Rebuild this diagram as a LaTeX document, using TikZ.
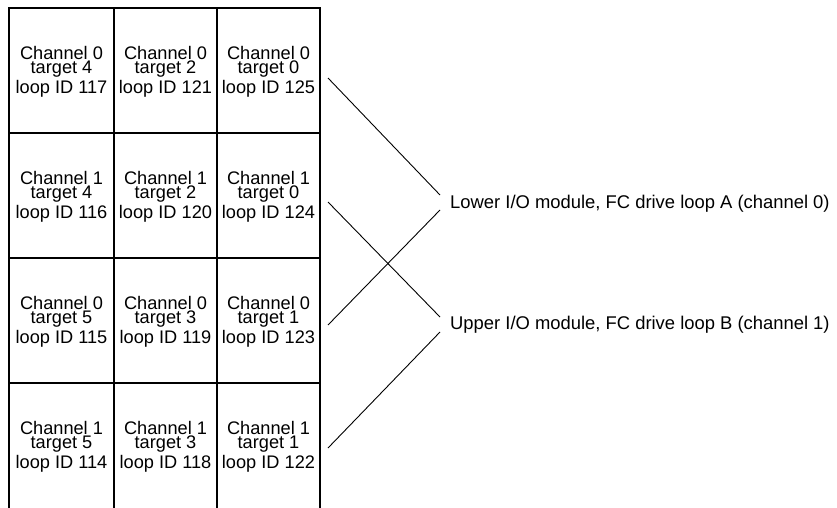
\documentclass[tikz,border=0pt]{standalone}
\usepackage{fontspec}
\setmainfont{Liberation Sans}
\begin{document}
\begin{tikzpicture}[x=1pt,y=-1pt,
  grid/.style={line width=1.6pt, line cap=rect},
  conn/.style={line width=0.9pt},
  cell/.style={align=center, inner sep=0pt, font=\fontsize{18.2}{14.2}\selectfont},
  lbl/.style={anchor=base west, inner sep=0pt, font=\fontsize{18.4}{22}\selectfont}]
\useasboundingbox (0,0) rectangle (837,508);
% grid
\draw[grid] (9,508) -- (9,8) -- (320,8) -- (320,508);
\foreach \y in {133,258,383} \draw[grid] (9,\y) -- (320,\y);
\foreach \x in {114,217} \draw[grid] (\x,8) -- (\x,508);
% cells
\node[cell] (c00) at (61.5,72) {Channel 0\\target 4\\[2pt]loop ID 117};
\node[cell] (c01) at (165.5,72) {Channel 0\\target 2\\[2pt]loop ID 121};
\node[cell] (c02) at (268.5,72) {Channel 0\\target 0\\[2pt]loop ID 125};
\node[cell] (c10) at (61.5,197) {Channel 1\\target 4\\[2pt]loop ID 116};
\node[cell] (c11) at (165.5,197) {Channel 1\\target 2\\[2pt]loop ID 120};
\node[cell] (c12) at (268.5,197) {Channel 1\\target 0\\[2pt]loop ID 124};
\node[cell] (c20) at (61.5,322) {Channel 0\\target 5\\[2pt]loop ID 115};
\node[cell] (c21) at (165.5,322) {Channel 0\\target 3\\[2pt]loop ID 119};
\node[cell] (c22) at (268.5,322) {Channel 0\\target 1\\[2pt]loop ID 123};
\node[cell] (c30) at (61.5,447) {Channel 1\\target 5\\[2pt]loop ID 114};
\node[cell] (c31) at (165.5,447) {Channel 1\\target 3\\[2pt]loop ID 118};
\node[cell] (c32) at (268.5,447) {Channel 1\\target 1\\[2pt]loop ID 122};
% labels
\node[lbl] (lA) at (450,208) {Lower I/O module, FC drive loop A (channel 0)};
\node[lbl] (lB) at (450,329) {Upper I/O module, FC drive loop B (channel 1)};
% connector ends
\coordinate (s1) at (328,78);
\coordinate (s2) at (328,202);
\coordinate (s3) at (328,325);
\coordinate (s4) at (328,448);
\coordinate (a1) at (440,195);
\coordinate (a2) at (440,210);
\coordinate (b1) at (440,317);
\coordinate (b2) at (440,332);
\draw[conn] (s1) -- (a1);
\draw[conn] (s3) -- (a2);
\draw[conn] (s2) -- (b1);
\draw[conn] (s4) -- (b2);
\end{tikzpicture}
\end{document}
